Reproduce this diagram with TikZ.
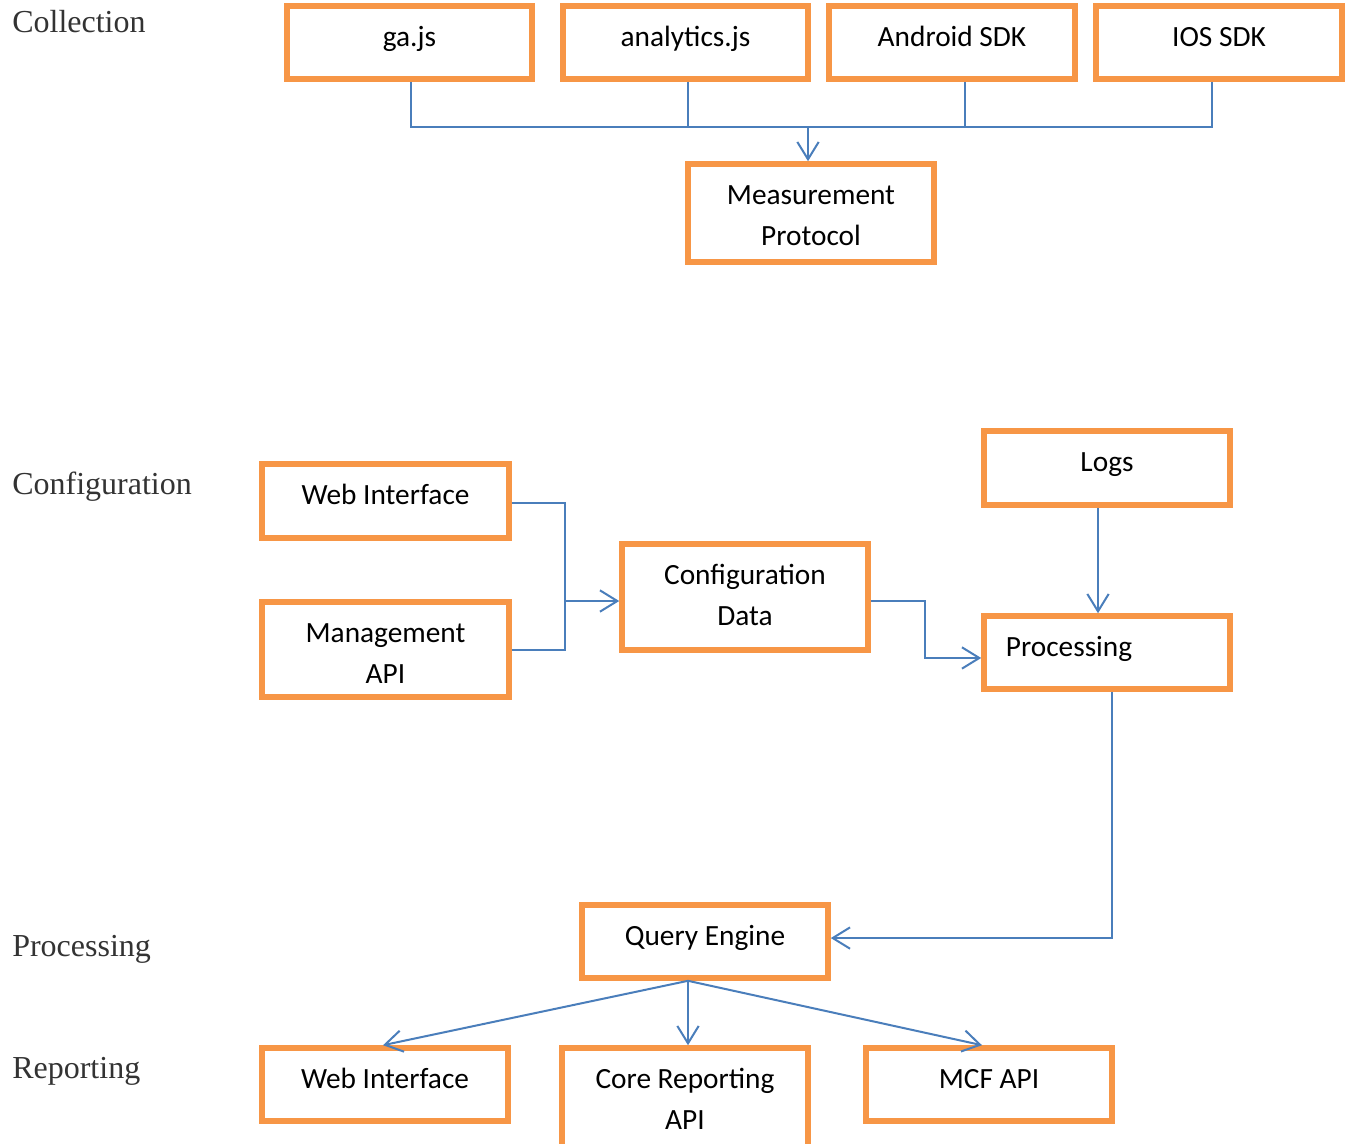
\documentclass[tikz,border=0pt]{standalone}
\usepackage{fontspec}
\usetikzlibrary{arrows.meta,fit}
\newfontfamily\boxfont{Carlito}
\newfontfamily\sidefont{Liberation Serif}
\definecolor{boxorange}{HTML}{F79646}
\definecolor{linkblue}{HTML}{4A7EBB}
\definecolor{sidegray}{HTML}{333333}
\begin{document}
\begin{tikzpicture}[x=0.75pt,y=-0.75pt,
  box/.style={draw=boxorange,line width=4.2pt,inner sep=0pt,fill=white},
  lbl/.style={anchor=north,inner sep=0pt,yshift=-10.8pt,align=center,text=black,
    font=\boxfont\fontsize{22}{30.75}\selectfont},
  side/.style={anchor=base west,inner sep=0pt,text=sidegray,
    font=\sidefont\fontsize{24}{28}\selectfont},
  conn/.style={draw=linkblue,line width=1.5pt},
  arr/.style={conn,-{Straight Barb[length=13pt,width=16pt]}}]
\fill[white] (0,0) rectangle (1349,1143);
\useasboundingbox (0,0) rectangle (1349,1143);

% stage captions
\node[side] (capcol)  at (12,32)   {Collection};
\node[side] (capconf) at (12,494)  {Configuration};
\node[side] (capproc) at (12,956)  {Processing};
\node[side] (caprep)  at (12,1078) {Reporting};

% collection
\node[box,fit={(287,6)(532,79)},label={[lbl]north:\strut ga.js}] (ga) {};
\node[box,fit={(563,6)(808,79)},label={[lbl]north:\strut analytics.js}] (analytics) {};
\node[box,fit={(829,6)(1075,79)},label={[lbl]north:\strut Android SDK}] (android) {};
\node[box,fit={(1096,6)(1342,79)},label={[lbl]north:\strut IOS SDK}] (ios) {};
\node[box,fit={(688,164)(934,262)},label={[lbl]north:\strut Measurement\\Protocol}] (meas) {};

% configuration
\node[box,fit={(262,464)(509,538)},label={[lbl]north:\strut Web Interface}] (webcfg) {};
\node[box,fit={(262,602)(509,697)},label={[lbl]north:\strut Management\\API}] (mgmt) {};
\node[box,fit={(622,544)(868,650)},label={[lbl]north:\strut Configuration\\Data}] (cfgdata) {};
\node[box,fit={(984,431)(1230,505)},label={[lbl]north:\strut Logs}] (logs) {};
\node[box,fit={(984,616)(1230,689)},label={[lbl,xshift=-28.5pt]north:\strut Processing}] (proc) {};

% processing and reporting
\node[box,fit={(582,905)(828,978)},label={[lbl]north:\strut Query Engine}] (query) {};
\node[box,fit={(262,1048)(508,1121)},label={[lbl]north:\strut Web Interface}] (webrep) {};
\node[box,fit={(562,1048)(808,1165)},label={[lbl]north:\strut Core Reporting\\API}] (core) {};
\node[box,fit={(866,1048)(1112,1121)},label={[lbl]north:\strut MCF API}] (mcf) {};

% collection bus
\coordinate (bus) at (808,127);
\draw[conn] ([xshift=1pt]ga.south) |- (bus);
\draw[conn] ([xshift=-5.25pt]ios.south) |- (bus);
\draw[conn] ([xshift=1.9pt]analytics.south) -- ([xshift=1.9pt]analytics.south |- bus);
\draw[conn] ([xshift=9.75pt]android.south) -- ([xshift=9.75pt]android.south |- bus);
\draw[arr] (bus) -- (bus |- meas.north);

% configuration links
\coordinate (cj) at (565,601);
\draw[conn] ([yshift=-1.5pt]webcfg.east) -| (cj);
\draw[conn] (mgmt.east) -| (cj);
\draw[arr] (cj) -- (cfgdata.west |- cj);
\coordinate (pk) at (925,630);
\draw[arr] ([yshift=-3pt]cfgdata.east) -| (pk) |- ([yshift=-4.1pt]proc.west);
\draw[arr] ([xshift=-6.75pt]logs.south) -- ([xshift=-6.75pt]proc.north);

% processing to query engine
\draw[arr] ([xshift=3.75pt]proc.south) |- ([yshift=2.6pt]query.east);

% query engine to reporting
\coordinate (qs) at ([xshift=-12.75pt]query.south);
\draw[arr] (qs) -- ([xshift=-1.5pt]webrep.north);
\draw[arr] (qs) -- (qs |- core.north);
\draw[arr] (qs) -- ([xshift=-5.25pt]mcf.north);
\end{tikzpicture}
\end{document}
